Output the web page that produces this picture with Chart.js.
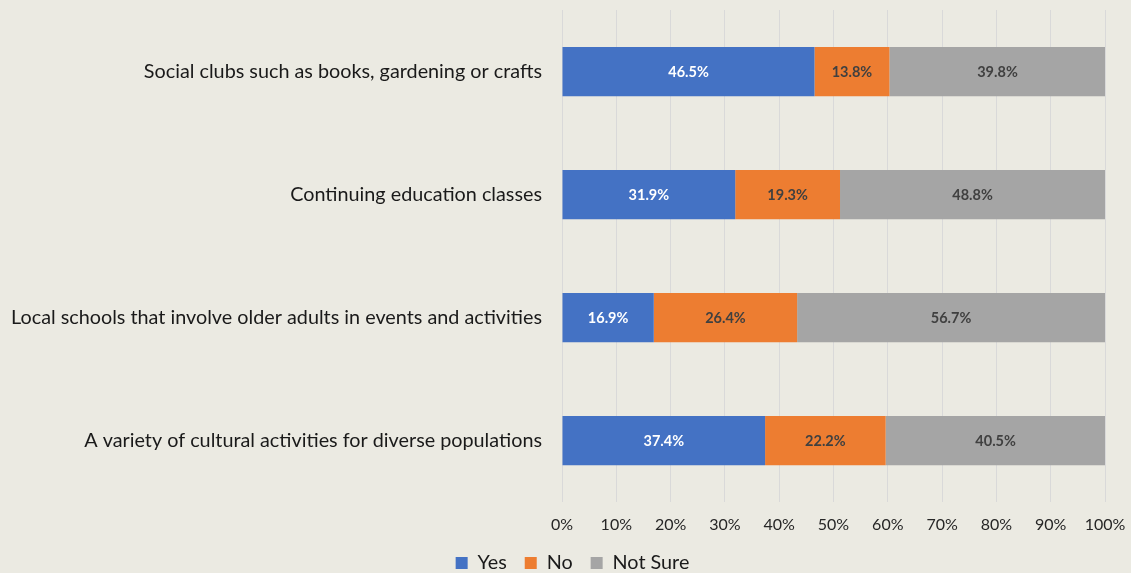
<!DOCTYPE html>
<html>
<head>
<meta charset="utf-8">
<script src="https://cdn.jsdelivr.net/npm/chart.js@4"></script>
<style>
html,body{margin:0;padding:0;background:#EBEAE2;}
#wrap{width:1131px;height:573px;position:relative;overflow:hidden;}
</style>
</head>
<body>
<div id="wrap"><canvas id="c" width="1131" height="573"></canvas></div>
<script>
const categories = [
  "Social clubs such as books, gardening or crafts",
  "Continuing education classes",
  "Local schools that involve older adults in events and activities",
  "A variety of cultural activities for diverse populations"
];
const yesValues = [46.5, 31.9, 16.9, 37.4];
const noValues = [13.8, 19.3, 26.4, 22.2];
const notSureValues = [39.8, 48.8, 56.7, 40.5];
const seriesNames = ["Yes", "No", "Not Sure"];
const xTicks = [0, 10, 20, 30, 40, 50, 60, 70, 80, 90, 100];

const colors = ["#4472C4", "#ED7D31", "#A5A5A5"];
const labelColors = ["#FFFFFF", "#404040", "#404040"];
const FONT = 'Lato, "Open Sans", sans-serif';

const labelPlugin = {
  id: 'barLabels',
  afterLayout(chart) {
    if (chart.legend) { chart.legend.left += 20; chart.legend.right += 20; }
  },
  afterDatasetsDraw(chart) {
    const ctx = chart.ctx;
    ctx.save();
    ctx.font = 'bold 14.5px ' + FONT;
    ctx.textAlign = 'center';
    ctx.textBaseline = 'middle';
    chart.data.datasets.forEach((ds, di) => {
      const meta = chart.getDatasetMeta(di);
      meta.data.forEach((el, i) => {
        const p = el.getProps(['x', 'base', 'y'], true);
        ctx.fillStyle = labelColors[di];
        ctx.fillText(ds.data[i].toFixed(1) + '%', (p.x + p.base) / 2, p.y + 1);
      });
    });
    ctx.restore();
  }
};

new Chart(document.getElementById('c'), {
  type: 'bar',
  data: {
    labels: categories,
    datasets: [
      { label: seriesNames[0], data: yesValues, backgroundColor: colors[0] },
      { label: seriesNames[1], data: noValues, backgroundColor: colors[1] },
      { label: seriesNames[2], data: notSureValues, backgroundColor: colors[2] }
    ]
  },
  options: {
    indexAxis: 'y',
    responsive: false,
    animation: false,
    layout: { padding: { left: 0, right: 26, top: 10, bottom: -10 } },
    datasets: { bar: { barPercentage: 0.4, categoryPercentage: 1.0 } },
    scales: {
      x: {
        stacked: true,
        min: 0, max: 100,
        afterBuildTicks(scale) { scale.ticks = xTicks.map(v => ({ value: v })); },
        afterFit(scale) { scale.paddingLeft = 0; scale.paddingRight = 0; scale.height = 33; },
        ticks: {
          callback: v => v + '%',
          color: '#262626',
          font: { family: FONT, size: 16 },
          padding: 13,
          maxRotation: 0
        },
        grid: { color: '#D9D9D9', drawTicks: false },
        border: { display: false }
      },
      y: {
        stacked: true,
        afterFit(scale) { scale.width = 562; scale.paddingTop = 0; scale.paddingBottom = 0; },
        ticks: {
          color: '#1a1a1a',
          font: { family: FONT, size: 19.8 },
          padding: 20
        },
        grid: { display: false, drawTicks: false },
        border: { display: false }
      }
    },
    plugins: {
      legend: {
        position: 'bottom',
        labels: {
          boxWidth: 12, boxHeight: 12,
          padding: 18,
          color: '#1a1a1a',
          font: { family: FONT, size: 19.8 }
        }
      },
      tooltip: { enabled: false }
    }
  },
  plugins: [labelPlugin]
});
</script>
</body>
</html>
